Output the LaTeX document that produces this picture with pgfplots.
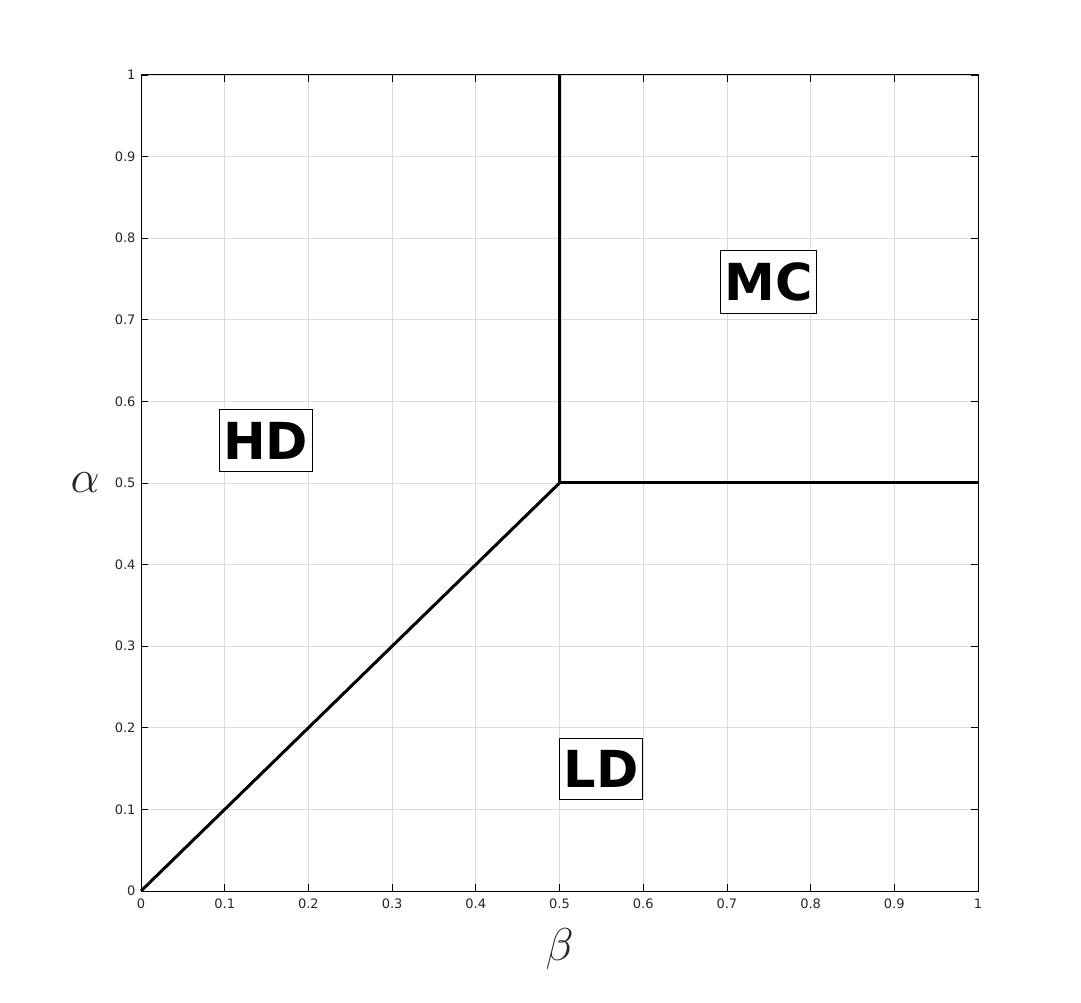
\documentclass[border=0pt]{standalone}
\usepackage{fix-cm}
\usepackage{fontspec}
\setmainfont{DejaVu Sans}
\usepackage{pgfplots}
\pgfplotsset{compat=1.18}
\definecolor{gridgray}{HTML}{DCDCDC}
\definecolor{ticktext}{HTML}{262626}
\begin{document}
\begin{tikzpicture}
\useasboundingbox (0,0) rectangle (1081pt,1002pt);
\begin{axis}[
  at={(141pt,111pt)}, anchor=south west,
  width=837pt, height=816pt, scale only axis,
  xmin=0, xmax=1, ymin=0, ymax=1,
  xtick={0,0.1,...,1.01}, ytick={0,0.1,...,1.01},
  xticklabels={0,0.1,0.2,0.3,0.4,0.5,0.6,0.7,0.8,0.9,1},
  yticklabels={0,0.1,0.2,0.3,0.4,0.5,0.6,0.7,0.8,0.9,1},
  tick align=inside, major tick length=7pt,
  tick style={black, line width=0.8pt},
  axis line style={black, line width=1pt},
  grid=major, grid style={gridgray, line width=0.8pt},
  xticklabel style={font=\fontsize{13}{15}\selectfont, text=ticktext, yshift=-4pt},
  yticklabel style={font=\fontsize{13}{15}\selectfont, text=ticktext, xshift=-2pt},
  xlabel={\fontsize{46}{50}\selectfont$\beta$},
  ylabel={\fontsize{46}{50}\selectfont$\alpha$},
  xlabel style={at={(axis description cs:0.5,-0.0417)}, anchor=north, text=ticktext},
  ylabel style={rotate=-90, at={(axis description cs:-0.0669,0.5)}, anchor=center, text=ticktext},
  clip=false,
]
\addplot[black, line width=3pt] coordinates {(0,0) (0.5,0.5) (0.5,1)};
\addplot[black, line width=3pt] coordinates {(0.5,0.5) (1,0.5)};
\node[draw=black, line width=1pt, fill=white, inner xsep=4pt, inner ysep=12pt, font=\fontsize{51}{56}\bfseries] at (axis cs:0.149,0.552) {HD};
\node[draw=black, line width=1pt, fill=white, inner xsep=4pt, inner ysep=12pt, font=\fontsize{51}{56}\bfseries] at (axis cs:0.750,0.746) {MC};
\node[draw=black, line width=1pt, fill=white, inner xsep=4pt, inner ysep=12pt, font=\fontsize{51}{56}\bfseries] at (axis cs:0.550,0.150) {LD};
\end{axis}
\end{tikzpicture}
\end{document}
